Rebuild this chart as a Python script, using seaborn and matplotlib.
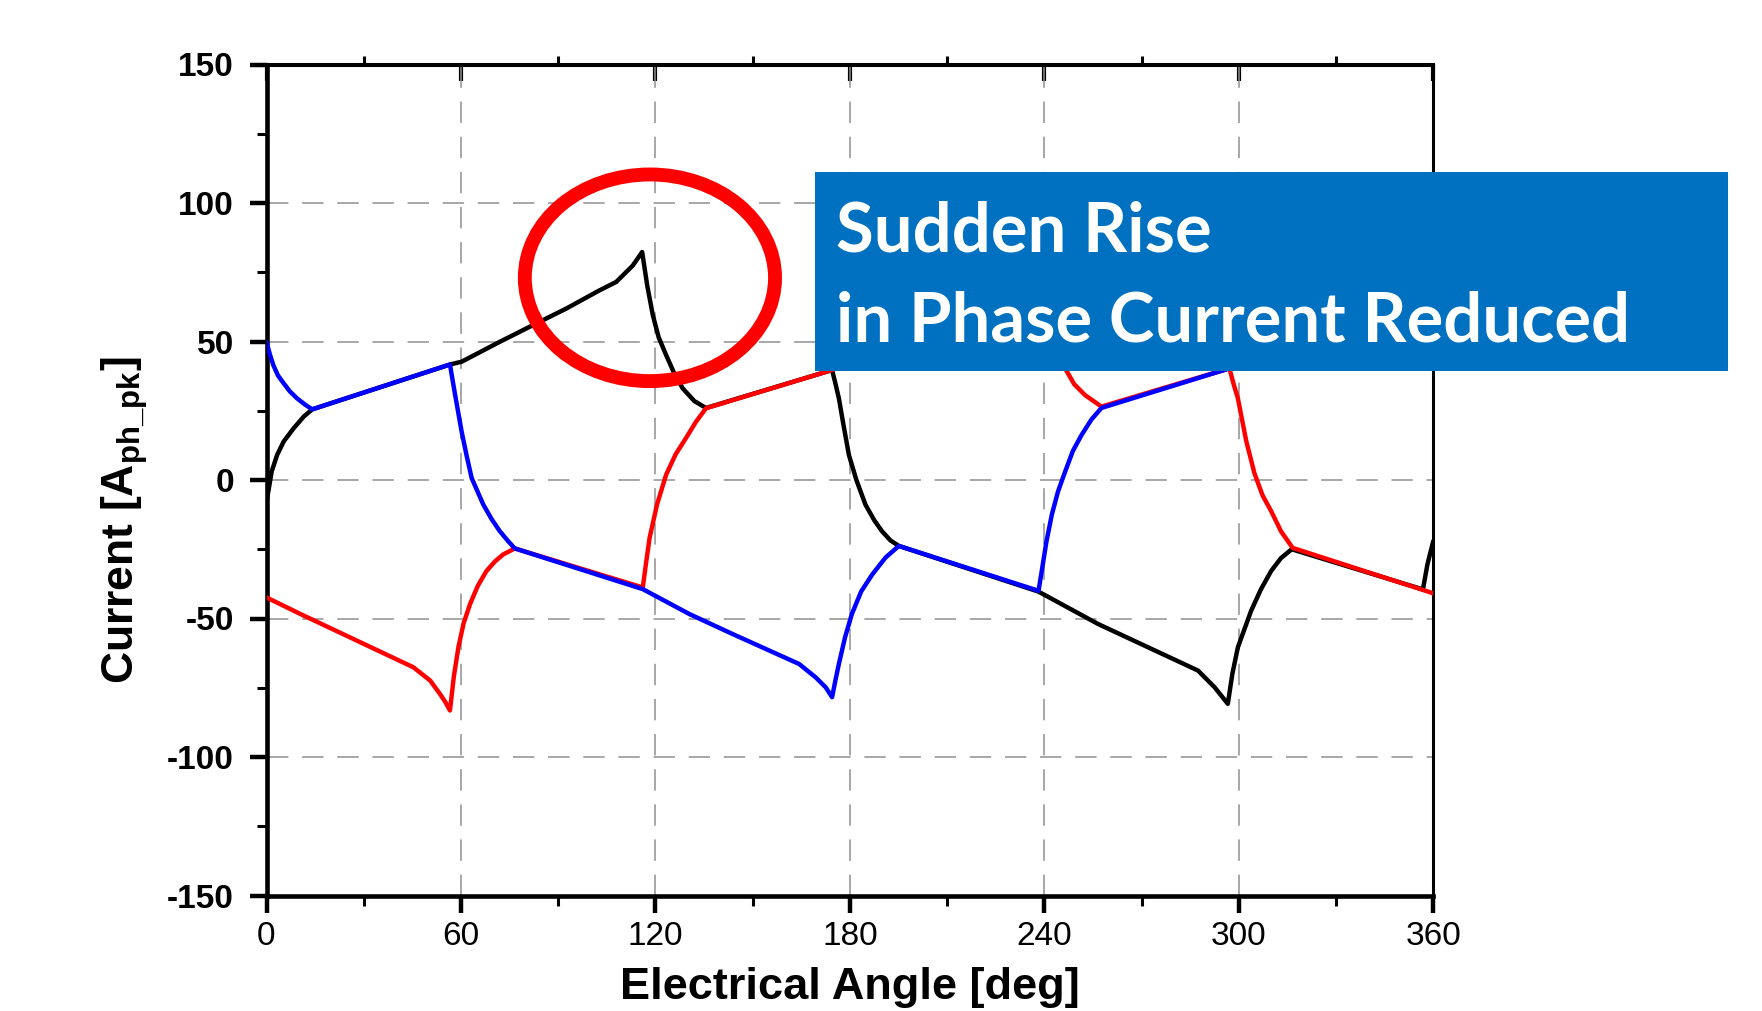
import numpy as np
import pandas as pd
import seaborn as sns
import matplotlib
matplotlib.use("Agg")
import matplotlib.pyplot as plt
from matplotlib.patches import Ellipse, Rectangle
from matplotlib.ticker import MultipleLocator

# ---------------- data ----------------
black_x = [0, 0.8, 1.6, 3.3, 5.3, 8.4, 11.5, 14.1, 56.6, 60.2, 72, 82.2, 92.5, 102.8, 107.9, 113, 115.9,
           117.5, 119.2, 121, 123.3, 125.8, 128.4, 132, 135.6, 174.5, 175.5, 176.6, 178, 179.7, 182,
           184.8, 187.5, 189.9, 192.5, 195.1, 238.2, 256.6, 272, 287.4, 292.5, 296.6, 298,
           299.7, 303.8, 306.8, 310, 313, 316.3, 356.8, 358.2, 360]
black_y = [-8, -2.5, 3.1, 9.1, 13.9, 18.7, 22.9, 25.5, 41.7, 42.7, 49.9, 55.9, 61.9, 68.5, 71.5, 77.4, 82.3,
           70, 59.5, 51.5, 45.1, 38.5, 33.1, 28.5, 26.0, 39.7, 35.0, 29.5, 20.0, 9.0, 0.0,
           -8.9, -14.5, -18.5, -21.8, -23.8, -40.3, -52.0, -60.4, -68.8, -74.8, -80.8, -70,
           -60.4, -47.2, -39.5, -32.8, -28.2, -25.0, -39.5, -30.4, -22]

blue_x = [0, 1, 2.1, 3.5, 5.3, 7.2, 9.4, 11.8, 14.1, 56.6, 58.2, 60.2, 61.8, 63.3, 66.9, 69.5, 72, 74.5,
          76.6, 116.1, 130.5, 143.8, 164.3, 169.4, 172.5, 174.5, 175.5, 176.6, 178.5, 180.6, 183.5,
          186.9, 191, 195.1, 238.2, 239.2, 240.6, 242.3, 244.2, 246.4, 248.8, 251.5, 254.5, 257.6,
          297.1, 300.2, 312, 322.2, 332.5, 342.8, 347.9, 353, 355.9, 359.2, 360]
blue_y = [49.9, 45.5, 41.5, 37.8, 34.9, 32.0, 29.5, 27.3, 25.5, 41.7, 30.7, 17.5, 8.5, 0.7, -8.9, -14.2,
          -18.5, -22.0, -24.7, -39.4, -48.4, -55.6, -66.4, -71.2, -74.8, -78.4, -72.5, -66.4, -56.8,
          -48.4, -40.2, -34.1, -28.0, -23.8, -40.0, -32.8, -22.5, -12.5, -4.2, 3.0, 10.5, 16.3, 21.8, 26.0,
          40.3, 42.7, 49.9, 55.9, 61.9, 68.5, 71.5, 77.4, 82.3, 59.5, 52]

red_x = [0, 10.5, 45.3, 50.5, 53.5, 55.2, 56.6, 57.8, 59.2, 60.8, 62.8, 65.2, 67.9, 70.5, 73, 76.6, 116.1,
         117.1, 118.2, 120.5, 123.3, 126.2, 129.4, 132.5, 135.6, 174.5, 180, 200, 220, 230, 237,
         240.5, 246.4, 249.2, 252.5, 257.6, 297.1, 298.3, 299.7, 302.3, 304.8, 307.3, 310, 313,
         316.6, 359.2, 360]
red_y = [-42.4, -48.4, -67.6, -72.4, -77.2, -80.2, -83.2, -71, -60.4, -51.8, -44.8, -38.2, -32.8, -29.4,
         -26.9, -24.7, -38.8, -30.0, -20.9, -8.8, 1.9, 9.2, 15.1, 21.0, 25.9, 39.7, 42.5, 54.5, 66.5, 73,
         82, 60, 40.3, 34.6, 30.7, 26.5, 40.3, 35.0, 29.5, 14.0, 2.5, -5.5, -11.3, -18.5,
         -24.5, -40.6, -41]

x_ticks = [0, 60, 120, 180, 240, 300, 360]
y_ticks = [-150, -100, -50, 0, 50, 100, 150]

phase_names = ["A", "C", "B"]          # drawing order: black, red, blue
phase_colors = {"A": "#000000", "C": "#FF0000", "B": "#0000FF"}

frames = []
for name, xs, ys in [("A", black_x, black_y), ("C", red_x, red_y), ("B", blue_x, blue_y)]:
    frames.append(pd.DataFrame({"angle": xs, "current": ys, "phase": name}))
df = pd.concat(frames, ignore_index=True)

# ---------------- style ----------------
sns.set_theme(style="white")
plt.rcParams["font.family"] = ["Liberation Sans", "DejaVu Sans"]
plt.rcParams["axes.unicode_minus"] = False
plt.rcParams["mathtext.fontset"] = "custom"
plt.rcParams["mathtext.rm"] = "Liberation Sans:bold"
plt.rcParams["mathtext.it"] = "Liberation Sans:bold"
plt.rcParams["mathtext.bf"] = "Liberation Sans:bold"

W, H = 1762, 1011
fig = plt.figure(figsize=(W / 100, H / 100), dpi=100)
L, R, T, B = 266.5, 1433.3, 64.5, 895.5
ax = fig.add_axes([L / W, 1 - B / H, (R - L) / W, (B - T) / H])

sns.lineplot(data=df, x="angle", y="current", hue="phase", hue_order=phase_names,
             palette=phase_colors, sort=False, estimator=None, units="phase",
             linewidth=3.2, legend=False, ax=ax, zorder=3)

ax.set_xlim(0, 360)
ax.set_ylim(-150, 150)
ax.set_xticks(x_ticks, [str(v) for v in x_ticks])
ax.set_yticks(y_ticks, [str(v) for v in y_ticks])
ax.xaxis.set_minor_locator(MultipleLocator(30))
ax.yaxis.set_minor_locator(MultipleLocator(25))
ax.tick_params(axis="both", which="major", direction="out", length=12.5, width=3.2,
               color="black", labelsize=24, labelcolor="black", left=True, bottom=True,
               top=False, right=False)
ax.tick_params(axis="both", which="minor", direction="out", length=7, width=2.2,
               color="black", left=True, bottom=True, top=False, right=False)
ax.tick_params(axis="y", which="major", pad=11)
ax.tick_params(axis="x", which="major", pad=6)
for lbl in ax.get_yticklabels():
    lbl.set_fontweight("bold")

ax.grid(True, which="major", color="#8f8f8f", linestyle=(0, (14, 9)), linewidth=1.1, zorder=1)
ax.set_axisbelow(True)

for s in ["left", "bottom"]:
    ax.spines[s].set_linewidth(3.3)
    ax.spines[s].set_color("black")
for s in ["top", "right"]:
    ax.spines[s].set_linewidth(2.2)
    ax.spines[s].set_color("black")

# top axis: major ticks inward, minor ticks outward
sec = ax.secondary_xaxis("top")
sec.set_xticks(x_ticks)
sec.xaxis.set_minor_locator(MultipleLocator(30))
sec.tick_params(which="major", direction="in", length=12, width=3.0, color="black", labeltop=False)
sec.tick_params(which="minor", direction="out", length=6, width=2.2, color="black")
sec.spines["top"].set_linewidth(2.2)
sec.spines["top"].set_color("black")

# axis labels
ax.set_xlabel("Electrical Angle [deg]", fontsize=32.5, fontweight="bold", color="black")
ax.xaxis.set_label_coords(0.5, (B - 987) / (B - T))
ax.xaxis.label.set_va("center")
ax.set_ylabel(r"Current [A$_{\mathrm{ph\_pk}}$]", fontsize=32, fontweight="bold", color="black")
ax.yaxis.set_label_coords((125 - L) / (R - L), (B - 520) / (B - T))
ax.yaxis.label.set_va("center")

# red ellipse annotation
ell = Ellipse((118.3, 73.0), width=77.2, height=74.6, fill=False, edgecolor="#FF0000",
              linewidth=10, zorder=6, clip_on=False)
ax.add_patch(ell)

# blue text box
bx0, by0, bx1, by1 = 815, 172, 1728, 371
fig.patches.append(Rectangle((bx0 / W, 1 - by1 / H), (bx1 - bx0) / W, (by1 - by0) / H,
                             transform=fig.transFigure, facecolor="#0070C0", edgecolor="none",
                             zorder=10))
box_font = ["Lato", "DejaVu Sans"]
fig.text(836 / W, 1 - 252 / H, "Sudden Rise", fontsize=49.5, fontweight="bold", color="white",
         family=box_font, ha="left", va="baseline", zorder=11)
fig.text(836 / W, 1 - 342 / H, "in Phase Current Reduced", fontsize=49.5, fontweight="bold",
         color="white", family=box_font, ha="left", va="baseline", zorder=11)

fig.savefig("out.png", dpi=100, facecolor="white")
